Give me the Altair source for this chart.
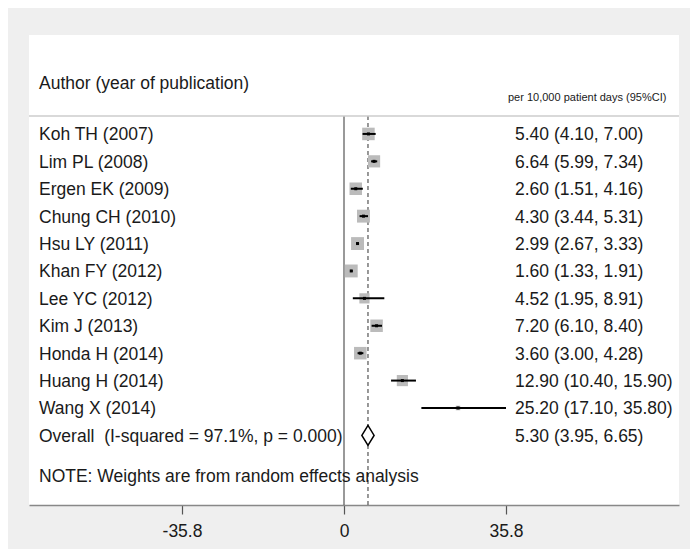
import altair as alt
import pandas as pd

authors = ["Koh TH (2007)", "Lim PL (2008)", "Ergen EK (2009)", "Chung CH (2010)",
           "Hsu LY (2011)", "Khan FY (2012)", "Lee YC (2012)", "Kim J (2013)",
           "Honda H (2014)", "Huang H (2014)", "Wang X (2014)"]
est = [5.40, 6.64, 2.60, 4.30, 2.99, 1.60, 4.52, 7.20, 3.60, 12.90, 25.20]
lo = [4.10, 5.99, 1.51, 3.44, 2.67, 1.33, 1.95, 6.10, 3.00, 10.40, 17.10]
hi = [7.00, 7.34, 4.16, 5.31, 3.33, 1.91, 8.91, 8.40, 4.28, 15.90, 35.80]
weights = [9.8, 9.3, 9.8, 10.4, 10.4, 10.4, 6.5, 9.8, 9.8, 7.8, 1.3]

overall_label = "Overall\u00a0 (I-squared = 97.1%, p = 0.000)"
overall_est, overall_lo, overall_hi = 5.30, 3.95, 6.65
note = "NOTE: Weights are from random effects analysis"
header_left = "Author (year of publication)"
header_right = "per 10,000 patient days (95%CI)"
tick_values = [-35.8, 0, 35.8]

FONT = "Liberation Sans"
FS = 17.5
W, H = 650, 470
XDOM = [-69.61, 74.03]
YDOM = [-3.61, 13.54]

n = len(authors)
rows = list(range(n))
studies = pd.DataFrame({
    "author": authors, "est": est, "lo": lo, "hi": hi, "w": weights, "row": rows,
})
orow = n
labels = pd.DataFrame({
    "author": authors + [overall_label],
    "lab": [f"{e:.2f} ({l:.2f}, {h:.2f})" for e, l, h in zip(est, lo, hi)]
           + [f"{overall_est:.2f} ({overall_lo:.2f}, {overall_hi:.2f})"],
    "row": rows + [orow],
})
dh = 0.365
diamond = pd.DataFrame({
    "x": [overall_lo, overall_est, overall_hi],
    "y": [orow, orow - dh, orow],
    "y2": [orow, orow + dh, orow],
})
sep_row = -0.65
vlines = pd.DataFrame({"x": [0.0, overall_est], "y": [sep_row, sep_row], "y2": [YDOM[1], YDOM[1]],
                       "kind": ["solid", "dash"]})

xs = alt.Scale(domain=XDOM, nice=False, zero=False)
ys = alt.Scale(domain=YDOM, nice=False, zero=False, reverse=True)
xax = alt.Axis(values=tick_values, labelExpr="datum.value == 0 ? '0' : '' + datum.value",
               grid=False, title=None, tickSize=9, tickWidth=1.2, tickColor="#555555",
               domainColor="#888888", domainWidth=1.5, labelFontSize=FS, labelFont=FONT,
               labelColor="#1a1a1a", labelPadding=8)

base_x = alt.X("x:Q", scale=xs, axis=xax)

sep = alt.Chart(pd.DataFrame({"y": [sep_row]})).mark_rule(color="#cccccc", strokeWidth=1.5).encode(
    y=alt.Y("y:Q", scale=ys, axis=None), x=alt.value(0), x2=alt.value(W))

zero_line = alt.Chart(vlines[vlines.kind == "solid"]).mark_rule(color="#555555", strokeWidth=1.2).encode(
    x=base_x, y=alt.Y("y:Q", scale=ys, axis=None), y2="y2:Q")
dash_line = alt.Chart(vlines[vlines.kind == "dash"]).mark_rule(
    color="#555555", strokeWidth=1.2, strokeDash=[4, 3]).encode(
    x=alt.X("x:Q", scale=xs), y=alt.Y("y:Q", scale=ys, axis=None), y2="y2:Q")

squares = alt.Chart(studies).mark_square(color="#bbbbbb", opacity=1).encode(
    x=alt.X("est:Q", scale=xs), y=alt.Y("row:Q", scale=ys, axis=None),
    size=alt.Size("w:Q", scale=alt.Scale(type="linear", domain=[0, 10], range=[0, 160]), legend=None))

ci = alt.Chart(studies).mark_rule(color="black", strokeWidth=2).encode(
    x=alt.X("lo:Q", scale=xs), x2="hi:Q", y=alt.Y("row:Q", scale=ys, axis=None))

dots = alt.Chart(studies).mark_square(color="black", size=9, opacity=1).encode(
    x=alt.X("est:Q", scale=xs), y=alt.Y("row:Q", scale=ys, axis=None))

dia = alt.Chart(diamond).mark_area(fill="white", stroke="black", strokeWidth=1.5, opacity=1).encode(
    x=alt.X("x:Q", scale=xs), y=alt.Y("y:Q", scale=ys, axis=None), y2="y2:Q")

auth_text = alt.Chart(labels).mark_text(align="left", baseline="middle", font=FONT, fontSize=FS,
                                        color="#1a1a1a", dy=1.5).encode(
    x=alt.value(10), y=alt.Y("row:Q", scale=ys, axis=None), text="author:N")
num_text = alt.Chart(labels).mark_text(align="left", baseline="middle", font=FONT, fontSize=FS,
                                       color="#1a1a1a", dy=1.5).encode(
    x=alt.value(486), y=alt.Y("row:Q", scale=ys, axis=None), text="lab:N")

heads = pd.DataFrame({"t": [header_left, header_right, note],
                      "row": [-1.86, -1.34, 12.47], "k": ["a", "b", "c"]})
head_a = alt.Chart(heads[heads.k != "b"]).mark_text(align="left", baseline="middle", font=FONT,
                                                    fontSize=FS, color="#1a1a1a", dy=1.5).encode(
    x=alt.value(10), y=alt.Y("row:Q", scale=ys, axis=None), text="t:N")
head_b = alt.Chart(heads[heads.k == "b"]).mark_text(align="left", baseline="middle", font=FONT,
                                                    fontSize=11, color="#1a1a1a", dy=1).encode(
    x=alt.value(479), y=alt.Y("row:Q", scale=ys, axis=None), text="t:N")

chart = alt.layer(zero_line, dash_line, sep, squares, ci, dots, dia, auth_text, num_text, head_a, head_b).properties(
    width=W, height=H, background="#efefef",
    padding={"left": 20, "top": 27, "right": 10, "bottom": 33},
).configure_view(fill="white", stroke=None)

chart.save("out.html", embed_options={"renderer": "svg", "actions": False})
